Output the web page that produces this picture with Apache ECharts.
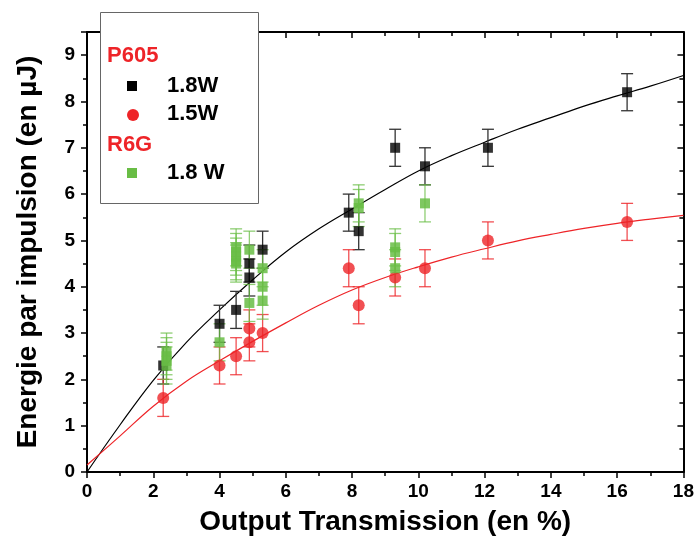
<!DOCTYPE html>
<html><head><meta charset="utf-8">
<script src="https://cdn.jsdelivr.net/npm/echarts@6/dist/echarts.min.js"></script>
<style>html,body{margin:0;padding:0;background:#fff}#c{width:697px;height:542px}</style>
</head><body><div id="c"></div>
<script>
// ---- data ----
const xTickLabels = ['0','2','4','6','8','10','12','14','16','18'];
const yTickLabels = ['0','1','2','3','4','5','6','7','8','9'];

// P605, 1.8 W (black squares)
const p605_18W_x   = [2.3, 4.0, 4.5, 4.9, 4.9, 5.3, 7.9, 8.2, 9.3, 10.2, 12.1, 16.3];
const p605_18W_y   = [2.3, 3.2, 3.5, 4.2, 4.5, 4.8, 5.6, 5.2, 7.0, 6.6, 7.0, 8.2];
const p605_18W_err = [0.4, 0.4, 0.4, 0.4, 0.4, 0.4, 0.4, 0.4, 0.4, 0.4, 0.4, 0.4];

// P605, 1.5 W (red circles)
const p605_15W_x   = [2.3, 4.0, 4.5, 4.9, 4.9, 5.3, 7.9, 8.2, 9.3, 10.2, 12.1, 16.3];
const p605_15W_y   = [1.6, 2.3, 2.5, 2.8, 3.1, 3.0, 4.4, 3.6, 4.2, 4.4, 5.0, 5.4];
const p605_15W_err = [0.4, 0.4, 0.4, 0.4, 0.4, 0.4, 0.4, 0.4, 0.4, 0.4, 0.4, 0.4];

// R6G, 1.8 W (green squares)
const r6g_18W_x   = [2.4, 2.4, 2.4, 2.4, 4.0, 4.5, 4.5, 4.5, 4.5, 4.5, 4.9, 4.9, 5.3, 5.3, 5.3, 8.2, 8.2, 9.3, 9.3, 9.3, 10.2];
const r6g_18W_y   = [2.6, 2.5, 2.4, 2.3, 2.8, 4.85, 4.75, 4.65, 4.55, 4.5, 4.8, 3.65, 4.4, 4.0, 3.7, 5.8, 5.7, 4.85, 4.75, 4.4, 5.8];
const r6g_18W_err = [0.4, 0.4, 0.4, 0.4, 0.4, 0.4, 0.4, 0.4, 0.4, 0.4, 0.4, 0.4, 0.4, 0.4, 0.4, 0.4, 0.4, 0.4, 0.4, 0.4, 0.4];

// fitted curves
const fitX      = [0, 1, 2, 3, 4, 5, 6, 7, 8, 9, 10, 11, 12, 13, 14, 15, 16, 17, 18];
const fitBlackY = [0, 1.02, 1.98, 2.8, 3.5, 4.15, 4.75, 5.25, 5.68, 6.1, 6.5, 6.83, 7.12, 7.4, 7.65, 7.9, 8.12, 8.33, 8.56];
const fitRedY   = [0.15, 0.78, 1.42, 1.96, 2.4, 2.82, 3.22, 3.6, 3.93, 4.2, 4.43, 4.64, 4.82, 4.99, 5.13, 5.26, 5.37, 5.46, 5.54];

// ---- styles ----
const BLACK = '#000000', RED = '#ee2428', GREEN = '#69bd45';
const FONT = '"Liberation Sans", Arial, sans-serif';

function pts(xs, ys) { return xs.map((x, i) => [x, ys[i]]); }
function errData(xs, ys, es) { return xs.map((x, i) => [x, ys[i] - es[i], ys[i] + es[i]]); }

function errRender(color, opacity) {
  return function (params, api) {
    const x = api.value(0);
    const lo = api.coord([x, api.value(1)]);
    const hi = api.coord([x, api.value(2)]);
    const w = 6;
    const st = { stroke: color, lineWidth: 1.3, opacity: opacity };
    return {
      type: 'group',
      children: [
        { type: 'line', shape: { x1: lo[0], y1: lo[1], x2: hi[0], y2: hi[1] }, style: st },
        { type: 'line', shape: { x1: hi[0] - w, y1: hi[1], x2: hi[0] + w, y2: hi[1] }, style: st },
        { type: 'line', shape: { x1: lo[0] - w, y1: lo[1], x2: lo[0] + w, y2: lo[1] }, style: st }
      ]
    };
  };
}

const labelStyle = { fontFamily: FONT, fontWeight: 'bold', fontSize: 19, color: '#000' };
const axisLine = { show: true, onZero: false, lineStyle: { color: '#000', width: 2 } };

const chart = echarts.init(document.getElementById('c'), null, { renderer: 'canvas' });
chart.setOption({
  animation: false,
  backgroundColor: '#fff',
  grid: { left: 87, right: 12, top: 32, bottom: 70, containLabel: false },
  xAxis: [
    {
      type: 'value', min: 0, max: 18, interval: 2, position: 'bottom',
      axisLine: axisLine,
      axisTick: { show: true, inside: false, length: 6, lineStyle: { color: '#000', width: 1.5 } },
      minorTick: { show: true, splitNumber: 2, length: 4, lineStyle: { color: '#000', width: 1.5 } },
      splitLine: { show: false },
      axisLabel: Object.assign({ margin: 10, formatter: (v) => xTickLabels[Math.round(v / 2)] }, labelStyle),
      name: 'Output Transmission (en %)', nameLocation: 'middle', nameGap: 36,
      nameTextStyle: { fontFamily: FONT, fontWeight: 'bold', fontSize: 28, color: '#000' }
    },
    {
      type: 'value', min: 0, max: 18, interval: 2, position: 'top',
      axisLine: axisLine,
      axisTick: { show: true, inside: true, length: 6, lineStyle: { color: '#000', width: 1.5 } },
      minorTick: { show: true, splitNumber: 2, length: 4, lineStyle: { color: '#000', width: 1.5 } },
      splitLine: { show: false }, axisLabel: { show: false }
    }
  ],
  yAxis: [
    {
      type: 'value', min: 0, max: 9.5, interval: 1, position: 'left',
      axisLine: axisLine,
      axisTick: { show: true, inside: false, length: 6, lineStyle: { color: '#000', width: 1.5 } },
      minorTick: { show: true, splitNumber: 2, length: 4, lineStyle: { color: '#000', width: 1.5 } },
      splitLine: { show: false },
      axisLabel: Object.assign({ margin: 12, formatter: (v) => yTickLabels[Math.round(v)] }, labelStyle),
      name: 'Energie par impulsion (en µJ)', nameLocation: 'middle', nameGap: 45, nameRotate: 90,
      nameTextStyle: { fontFamily: FONT, fontWeight: 'bold', fontSize: 28, color: '#000' }
    },
    {
      type: 'value', min: 0, max: 9.5, interval: 1, position: 'right',
      axisLine: axisLine,
      axisTick: { show: true, inside: true, length: 6, lineStyle: { color: '#000', width: 1.5 } },
      minorTick: { show: true, splitNumber: 2, length: 4, lineStyle: { color: '#000', width: 1.5 } },
      splitLine: { show: false }, axisLabel: { show: false }
    }
  ],
  series: [
    { type: 'line', data: pts(fitX, fitBlackY), smooth: 0.4, showSymbol: false, symbol: 'none',
      lineStyle: { color: BLACK, width: 1.2 }, z: 2 },
    { type: 'line', data: pts(fitX, fitRedY), smooth: 0.4, showSymbol: false, symbol: 'none',
      lineStyle: { color: RED, width: 1.2 }, z: 2 },
    { type: 'custom', renderItem: errRender('#333', 1), data: errData(p605_18W_x, p605_18W_y, p605_18W_err),
      encode: { x: 0, y: [1, 2] }, z: 3 },
    { type: 'custom', renderItem: errRender(RED, 0.8), data: errData(p605_15W_x, p605_15W_y, p605_15W_err),
      encode: { x: 0, y: [1, 2] }, z: 3 },
    { type: 'custom', renderItem: errRender(GREEN, 0.75), data: errData(r6g_18W_x, r6g_18W_y, r6g_18W_err),
      encode: { x: 0, y: [1, 2] }, z: 4 },
    { type: 'scatter', data: pts(p605_18W_x, p605_18W_y), symbol: 'rect', symbolSize: 10,
      itemStyle: { color: BLACK }, z: 5 },
    { type: 'scatter', data: pts(p605_15W_x, p605_15W_y), symbol: 'circle', symbolSize: 12,
      itemStyle: { color: RED }, z: 5 },
    { type: 'scatter', data: pts(r6g_18W_x, r6g_18W_y), symbol: 'rect', symbolSize: 10,
      itemStyle: { color: GREEN, opacity: 0.85 }, z: 6 }
  ],
  graphic: [
    { type: 'rect', left: 100, top: 12, shape: { width: 158, height: 191 },
      style: { fill: '#fff', stroke: '#666', lineWidth: 1 }, z: 100 },
    { type: 'text', left: 107, top: 45, z: 101,
      style: { text: 'P605', fill: RED, font: 'bold 22px ' + FONT } },
    { type: 'rect', left: 127, top: 81, shape: { width: 10, height: 10 }, style: { fill: BLACK }, z: 101 },
    { type: 'text', left: 167, top: 75, z: 101,
      style: { text: '1.8W', fill: '#000', font: 'bold 22px ' + FONT } },
    { type: 'circle', left: 127, top: 109, shape: { r: 6 }, style: { fill: RED }, z: 101 },
    { type: 'text', left: 167, top: 103, z: 101,
      style: { text: '1.5W', fill: '#000', font: 'bold 22px ' + FONT } },
    { type: 'text', left: 107, top: 134, z: 101,
      style: { text: 'R6G', fill: RED, font: 'bold 22px ' + FONT } },
    { type: 'rect', left: 127, top: 168, shape: { width: 10, height: 10 }, style: { fill: GREEN }, z: 101 },
    { type: 'text', left: 167, top: 162, z: 101,
      style: { text: '1.8 W', fill: '#000', font: 'bold 22px ' + FONT } }
  ]
});
</script>
</body></html>
